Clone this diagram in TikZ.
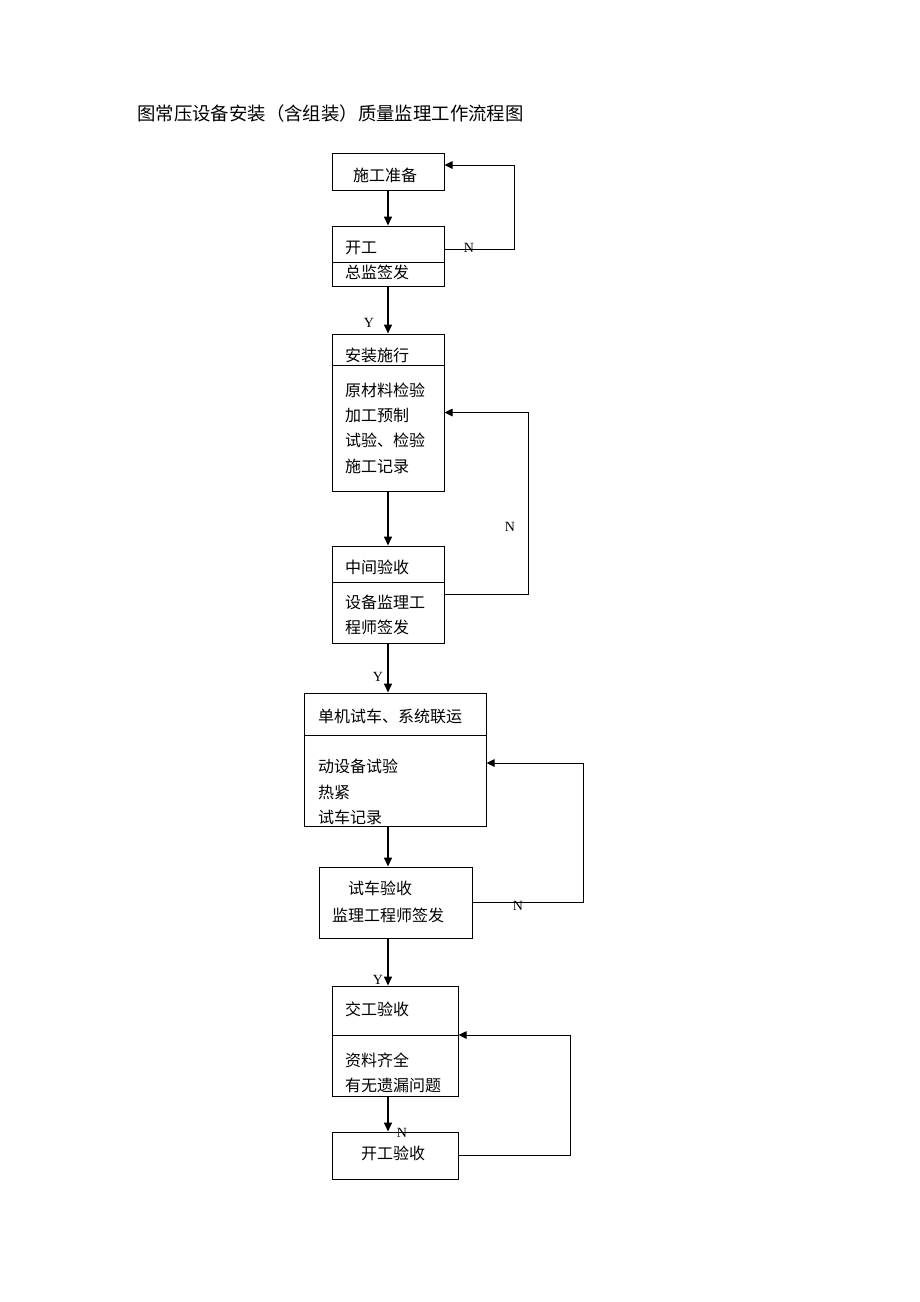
\documentclass[tikz,border=0pt]{standalone}
\usepackage{fontspec}
\setmainfont{Liberation Serif}
\newfontfamily\cjk{Noto Sans CJK SC}
\usetikzlibrary{arrows.meta}

\tikzset{
    box/.style  = {draw, line width = 1pt, inner sep = 0pt},
    txt/.style  = {anchor = west, inner sep = 0pt, align = left,
                   font = \cjk\fontsize{16}{25.3}\selectfont},
    yn/.style   = {inner sep = 0pt, font = \fontsize{14}{14}\selectfont},
    flow/.style = {line width = 1.6pt, -{Triangle[length = 9pt, width = 8pt]}},
    back/.style = {line width = .9pt, -{Triangle[length = 8pt, width = 7.5pt]}}
}

\begin{document}
\begin{tikzpicture}[x = 1pt, y = -1pt]
            \fill [white] (0,0) rectangle (920,1302);
            \useasboundingbox (0,0) rectangle (920,1302);

            % Draw the title:
            \node [anchor = west, inner sep = 0pt, font = \cjk\fontsize{18.4}{18.4}\selectfont] (title) at (137,114)
                {图常压设备安装（含组装）质量监理工作流程图};

            % Draw the boxes:
            \node [box, minimum width = 112, minimum height = 37]  (prep)  at (388,171.5)  {};
            \node [box, minimum width = 112, minimum height = 60]  (start) at (388,256)    {};
            \node [box, minimum width = 112, minimum height = 157] (inst)  at (388,412.5)  {};
            \node [box, minimum width = 112, minimum height = 97]  (mid)   at (388,594.5)  {};
            \node [box, minimum width = 182, minimum height = 133] (run)   at (395,759.5)  {};
            \node [box, minimum width = 153, minimum height = 71]  (acc)   at (395.5,902.5) {};
            \node [box, minimum width = 126, minimum height = 110] (hand)  at (395,1041)   {};
            \node [box, minimum width = 126, minimum height = 47]  (fin)   at (395,1155.5) {};

            % Draw the dividers:
            \draw [line width = 1pt] (start.west |- 0,262)  -- (start.east |- 0,262);
            \draw [line width = 1pt] (inst.west  |- 0,365)  -- (inst.east  |- 0,365);
            \draw [line width = 1pt] (mid.west   |- 0,582)  -- (mid.east   |- 0,582);
            \draw [line width = 1pt] (run.west   |- 0,735)  -- (run.east   |- 0,735);
            \draw [line width = 1pt] (hand.west  |- 0,1035) -- (hand.east  |- 0,1035);

            % Draw the box texts:
            \node [txt] (prepT)  at (353,175)    {施工准备};
            \node [txt] (startT) at (345,248)    {开工};
            \node [txt] (startS) at (345,272)    {总监签发};
            \node [txt] (instT)  at (345,355)    {安装施行};
            \node [txt] (instS)  at (345,428)    {原材料检验\\加工预制\\试验、检验\\施工记录};
            \node [txt] (midT)   at (345,567)    {中间验收};
            \node [txt] (midS)   at (345,615)    {设备监理工\\程师签发};
            \node [txt] (runT)   at (318,716)    {单机试车、系统联运};
            \node [txt] (runS)   at (318,792)    {动设备试验\\热紧\\试车记录};
            \node [txt] (accT)   at (348,888)    {试车验收};
            \node [txt] (accS)   at (332,915)    {监理工程师签发};
            \node [txt] (handT)  at (345,1009)   {交工验收};
            \node [txt] (handS)  at (345,1072.5) {资料齐全\\有无遗漏问题};
            \node [txt] (finT)   at (361,1153)   {开工验收};

            % Draw the main flow:
            \draw [flow] (prep.south)  -- (start.north);
            \draw [flow] (start.south) -- (inst.north);
            \draw [flow] (inst.south)  -- (mid.north);
            \draw [flow] (mid.south)   -- (mid.south |- run.north);
            \draw [flow] (mid.south |- run.south) -- (mid.south |- acc.north);
            \draw [flow] (mid.south |- acc.south) -- (mid.south |- hand.north);
            \draw [flow] (mid.south |- hand.south) -- (mid.south |- fin.north);

            % Draw the returns:
            \draw [back] ([yshift = 7pt]start.east) -- ++(70,0) |- ([yshift = 6.5pt]prep.east);
            \draw [back] (mid.east) -- ++(84,0) |- (inst.east);
            \draw [back] (acc.east) -- ++(111,0) |- ([yshift = -3.5pt]run.east);
            \draw [back] (fin.east) -- ++(112,0) |- ([yshift = 6pt]hand.east);

            % Draw the Y/N marks:
            \node [yn] (n1) at (469,248)  {N};
            \node [yn] (y1) at (369,323)  {Y};
            \node [yn] (n2) at (510,527)  {N};
            \node [yn] (y2) at (378,677)  {Y};
            \node [yn] (n3) at (518,906)  {N};
            \node [yn] (y3) at (378,980)  {Y};
            \node [yn] (n4) at (402,1133) {N};
\end{tikzpicture}
\end{document}
